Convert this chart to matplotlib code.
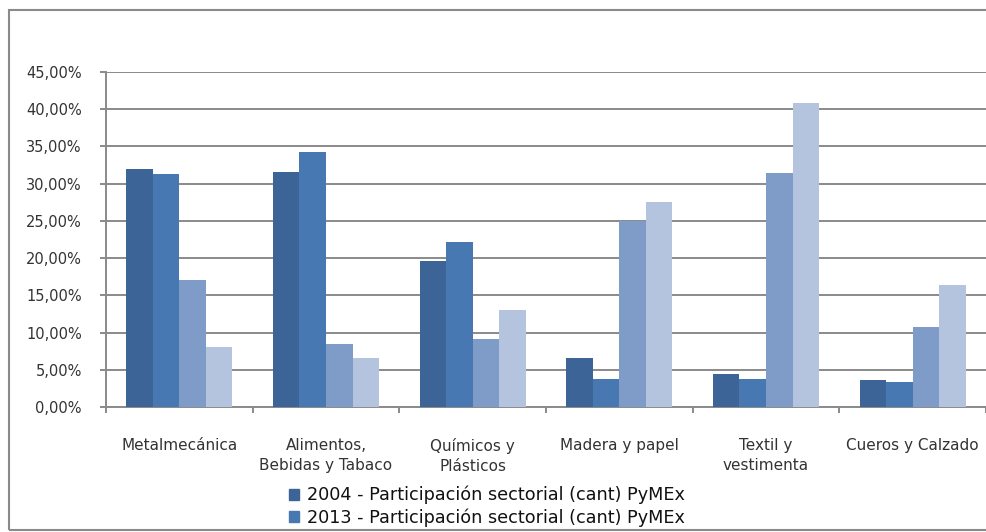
import numpy as np
import matplotlib
matplotlib.use("Agg")
import matplotlib.pyplot as plt
from matplotlib.patches import Patch, Rectangle

plt.rcParams['font.family'] = ['DejaVu Sans']

SECTORES = ["Metalmecánica", "Alimentos,\nBebidas y Tabaco", "Químicos y\nPlásticos",
            "Madera y papel", "Textil y\nvestimenta", "Cueros y Calzado"]

S1 = [32.0, 31.6, 19.6, 6.6, 4.5, 3.6]
S2 = [31.25, 34.3, 22.2, 3.7, 3.7, 3.3]
S3 = [17.1, 8.4, 9.2, 25.0, 31.5, 10.7]
S4 = [8.1, 6.6, 13.0, 27.5, 40.8, 16.4]

LABELS = ["2004 - Participación sectorial (cant) PyMEx",
          "2013 - Participación sectorial (cant) PyMEx"]
COLORS = ["#3d6497", "#4878b1", "#7f9bc8", "#b4c4df"]

YTICKS = np.arange(0, 46, 5)

W, H = 986, 532
fig = plt.figure(figsize=(W / 100, H / 100), dpi=100)
ax = fig.add_axes([106 / W, (H - 407) / H, (W - 106) / W, (407 - 72) / H])

# outer chart border (cropped at right)
fig.add_artist(Rectangle((9 / W, (H - 530) / H), 1.2, (530 - 10) / H,
                         transform=fig.transFigure, fill=False,
                         edgecolor="#8a8a8a", linewidth=1.5))

x = np.arange(len(SECTORES))
w = 0.181
for i, vals in enumerate([S1, S2, S3, S4]):
    ax.bar(x + (i - 1.5) * w, vals, w, color=COLORS[i], zorder=3)

ax.set_ylim(0, 45)
ax.set_xlim(-0.5, 5.5 - 8 / 148)
ax.set_yticks(YTICKS)
ax.set_yticklabels([f"{v:.2f}".replace(".", ",") + "%" for v in YTICKS])
ax.yaxis.grid(True, color="#8a8a8a", linewidth=1.4, zorder=0)

ax.set_xticks(x)
ax.set_xticklabels(SECTORES, fontsize=11, color="#333333", linespacing=1.45)
ax.set_xticks(np.arange(-0.5, 6, 1), minor=True)
ax.tick_params(axis="x", which="major", length=0, pad=22)
ax.tick_params(axis="x", which="minor", length=4.5, color="#8a8a8a", width=1.4)
ax.tick_params(axis="y", length=4.5, color="#8a8a8a", width=1.4,
               labelsize=10.5, labelcolor="#333333", pad=13)

for s in ["top", "right"]:
    ax.spines[s].set_visible(False)
for s in ["left", "bottom"]:
    ax.spines[s].set_color("#8a8a8a")
    ax.spines[s].set_linewidth(1.4)

handles = [Patch(color=COLORS[0]), Patch(color=COLORS[1])]
fig.legend(handles, LABELS, loc="upper left", bbox_to_anchor=(280 / W, (H - 477) / H),
           frameon=False, fontsize=12.7, handlelength=0.6, handleheight=0.6,
           handletextpad=0.45, labelspacing=0.22, borderpad=0, labelcolor="#111111")

fig.savefig("out.png", dpi=100)
